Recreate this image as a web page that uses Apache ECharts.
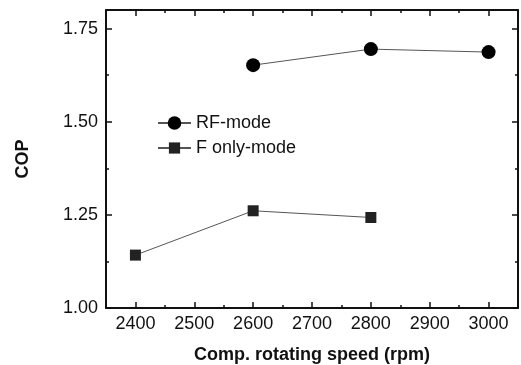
<!DOCTYPE html>
<html>
<head>
<meta charset="utf-8">
<script src="https://cdn.jsdelivr.net/npm/echarts@6/dist/echarts.min.js"></script>
<style>
  html, body { margin: 0; padding: 0; background: #fff; }
  #chart { width: 521px; height: 365px; }
</style>
</head>
<body>
<div id="chart"></div>
<script>
// speeds (rpm) and COP values
const rfSpeed = [2600, 2800, 3000];
const rfCop = [1.652, 1.695, 1.687];
const fSpeed = [2400, 2600, 2800];
const fCop = [1.142, 1.261, 1.243];

const xMajor = [2400, 2500, 2600, 2700, 2800, 2900, 3000];
const xMinor = [2450, 2550, 2650, 2750, 2850, 2950];
const yMajor = [1.0, 1.25, 1.5, 1.75];
const yMinor = [1.125, 1.375, 1.625];

const FONT = "'Liberation Sans', Arial, sans-serif";
const INK = "#111";

const chart = echarts.init(document.getElementById("chart"));

const edgeLine = { show: true, onZero: false, lineStyle: { color: INK, width: 2 } };
const tick = (vals, len) => ({
  show: true,
  inside: true,
  length: len,
  customValues: vals,
  lineStyle: { color: INK, width: 1.5 },
});
const noLabel = { show: false };

const xBase = { type: "value", min: 2350, max: 3050, splitLine: { show: false } };
const yBase = { type: "value", min: 1.0, max: 1.8, splitLine: { show: false } };

chart.setOption({
  animation: false,
  grid: { left: 106, right: 3, top: 10, bottom: 57, outerBoundsMode: "none", containLabel: false },
  xAxis: [
    {
      ...xBase,
      position: "bottom",
      axisLine: edgeLine,
      axisTick: tick(xMajor, 6),
      axisLabel: {
        customValues: xMajor,
        margin: 7,
        color: INK,
        fontFamily: FONT,
        fontSize: 18,
        formatter: (v) => String(v),
      },
      name: "Comp. rotating speed (rpm)",
      nameLocation: "middle",
      nameGap: 38,
      nameTextStyle: { color: INK, fontFamily: FONT, fontSize: 18, fontWeight: "bold" },
    },
    { ...xBase, position: "bottom", axisLine: { show: false }, axisTick: tick(xMinor, 3), axisLabel: noLabel },
    { ...xBase, position: "top", axisLine: edgeLine, axisTick: tick(xMajor, 6), axisLabel: noLabel },
    { ...xBase, position: "top", axisLine: { show: false }, axisTick: tick(xMinor, 3), axisLabel: noLabel },
  ],
  yAxis: [
    {
      ...yBase,
      position: "left",
      axisLine: edgeLine,
      axisTick: tick(yMajor, 6),
      axisLabel: {
        customValues: yMajor,
        margin: 8,
        color: INK,
        fontFamily: FONT,
        fontSize: 18,
        formatter: (v) => v.toFixed(2),
      },
      name: "COP",
      nameLocation: "middle",
      nameGap: 74,
      nameTextStyle: { color: INK, fontFamily: FONT, fontSize: 18, fontWeight: "bold" },
    },
    { ...yBase, position: "left", axisLine: { show: false }, axisTick: tick(yMinor, 3), axisLabel: noLabel },
    { ...yBase, position: "right", axisLine: edgeLine, axisTick: tick(yMajor, 6), axisLabel: noLabel },
    { ...yBase, position: "right", axisLine: { show: false }, axisTick: tick(yMinor, 3), axisLabel: noLabel },
  ],
  legend: [
    {
      data: ["RF-mode"],
      orient: "vertical",
      left: 152,
      top: 109,
      itemWidth: 33,
      itemHeight: 17,
      itemGap: 0,
      textStyle: { color: INK, fontFamily: FONT, fontSize: 18 },
    },
    {
      data: ["F only-mode"],
      orient: "vertical",
      left: 152,
      top: 134,
      itemWidth: 33,
      itemHeight: 14,
      itemGap: 0,
      textStyle: { color: INK, fontFamily: FONT, fontSize: 18 },
    },
  ],
  series: [
    {
      name: "RF-mode",
      type: "line",
      data: rfSpeed.map((s, i) => [s, rfCop[i]]),
      symbol: "circle",
      symbolSize: 14,
      itemStyle: { color: "#000" },
      lineStyle: { color: "#555", width: 1 },
    },
    {
      name: "F only-mode",
      type: "line",
      data: fSpeed.map((s, i) => [s, fCop[i]]),
      symbol: "rect",
      symbolSize: 11,
      itemStyle: { color: "#222" },
      lineStyle: { color: "#555", width: 1 },
    },
  ],
});
</script>
</body>
</html>
